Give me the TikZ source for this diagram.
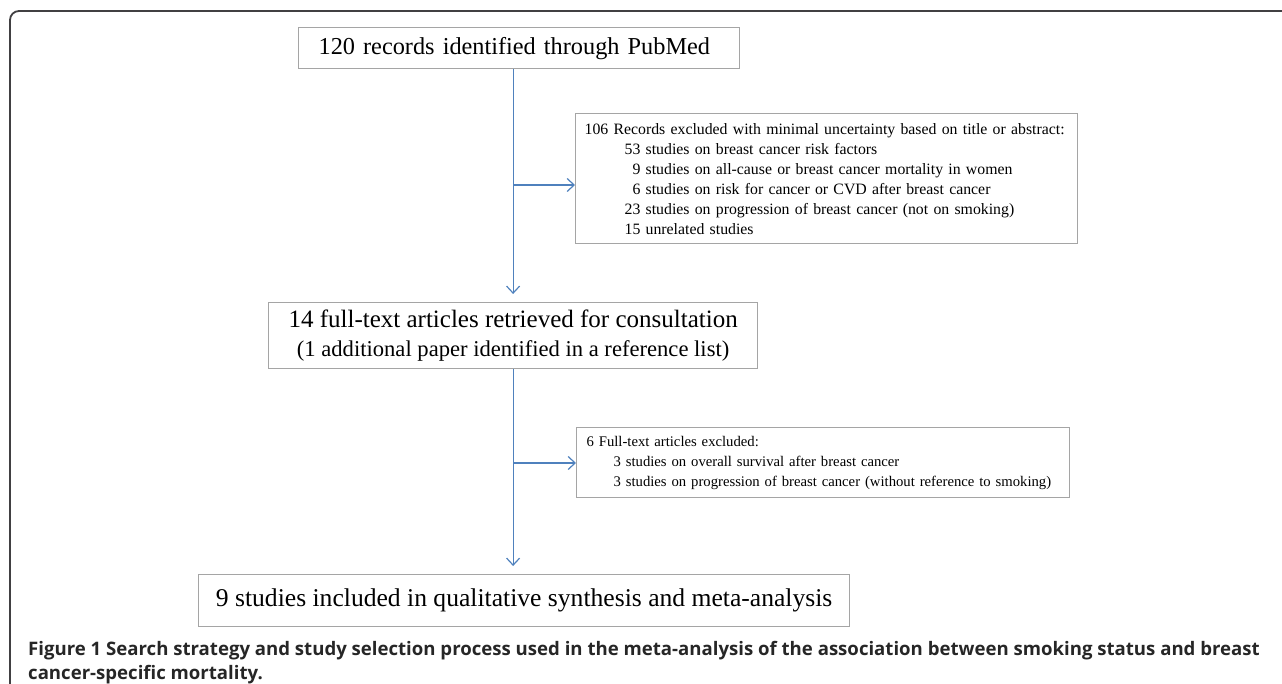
\documentclass[tikz,border=0pt]{standalone}
\usepackage{fontspec}
\setmainfont{Liberation Serif}
\newfontfamily\capfont{Open Sans}
\usetikzlibrary{positioning, arrows.meta, calc}
\definecolor{flowblue}{RGB}{79,129,189}
\definecolor{boxgray}{RGB}{165,165,165}
\definecolor{framegray}{RGB}{65,64,66}

\begin{document}
\begin{tikzpicture}[x=1pt, y=-1pt,
  box/.style={draw=boxgray, line width=1.2pt, rectangle, inner ysep=0pt, anchor=north west},
  flow/.style={draw=flowblue, line width=1.2pt, -{Straight Barb[length=7pt,width=13pt]}}]
  \useasboundingbox (0,0) rectangle (1282,684);
  % outer frame
  \draw[framegray, line width=1.8pt, rounded corners=9pt] (1282,11) -- (10,11) -- (10,684);

  % main column
  \node[box, font=\fontsize{24.3}{29}\selectfont, text width=401pt, inner xsep=20pt, minimum height=41pt, align=left] (rec) at (298,27) {120 records identified through PubMed};
  \node[box, font=\fontsize{25}{29}\selectfont, inner xsep=0pt, minimum width=489pt, minimum height=66pt, align=center] (full) at (268,302) {14 full-text articles retrieved for consultation\\{\fontsize{22.6}{29}\selectfont (1 additional paper identified in a reference list)}};
  \node[box, font=\fontsize{25.6}{29}\selectfont, inner xsep=0pt, minimum width=651pt, minimum height=52pt, align=center] (incl) at (198,574) {9 studies included in qualitative synthesis and meta-analysis};

  % exclusion boxes
  \node[box, font=\fontsize{15.8}{20}\selectfont, text width=484pt, inner xsep=9pt, minimum height=130pt, align=left] (excl) at (575,113) {106 Records excluded with minimal uncertainty based on title or abstract:\\
    \hspace*{40pt}53 studies on breast cancer risk factors\\
    \hspace*{40pt}\hphantom{0}9 studies on all-cause or breast cancer mortality in women\\
    \hspace*{40pt}\hphantom{0}6 studies on risk for cancer or CVD after breast cancer\\
    \hspace*{40pt}23 studies on progression of breast cancer (not on smoking)\\
    \hspace*{40pt}15 unrelated studies};
  \node[box, font=\fontsize{14.7}{20}\selectfont, text width=473pt, inner xsep=10pt, minimum height=70pt, align=left] (fexcl) at (576,427) {6 Full-text articles excluded:\\
    \hspace*{27pt}3 studies on overall survival after breast cancer\\
    \hspace*{27pt}3 studies on progression of breast cancer (without reference to smoking)};

  \coordinate (split1) at (full.north |- 0,185);
  \coordinate (split2) at (full.north |- 0,463);

  % connectors
  \draw[flow, shorten >=8pt] (rec.south -| full.north) -- (full.north);
  \draw[flow, shorten >=8pt] (full.south) -- (full.south |- incl.north);
  \draw[flow] (split1) -- (split1 -| excl.west);
  \draw[flow] (split2) -- (split2 -| fexcl.west);

  % caption
  \node[anchor=north west, inner sep=0pt, align=left, text=black!85, font=\capfont\bfseries\fontsize{18.6}{24}\selectfont] (cap) at (28,641) {Figure 1 Search strategy and study selection process used in the meta-analysis of the association between smoking status and breast\\cancer-specific mortality.};
\end{tikzpicture}
\end{document}
